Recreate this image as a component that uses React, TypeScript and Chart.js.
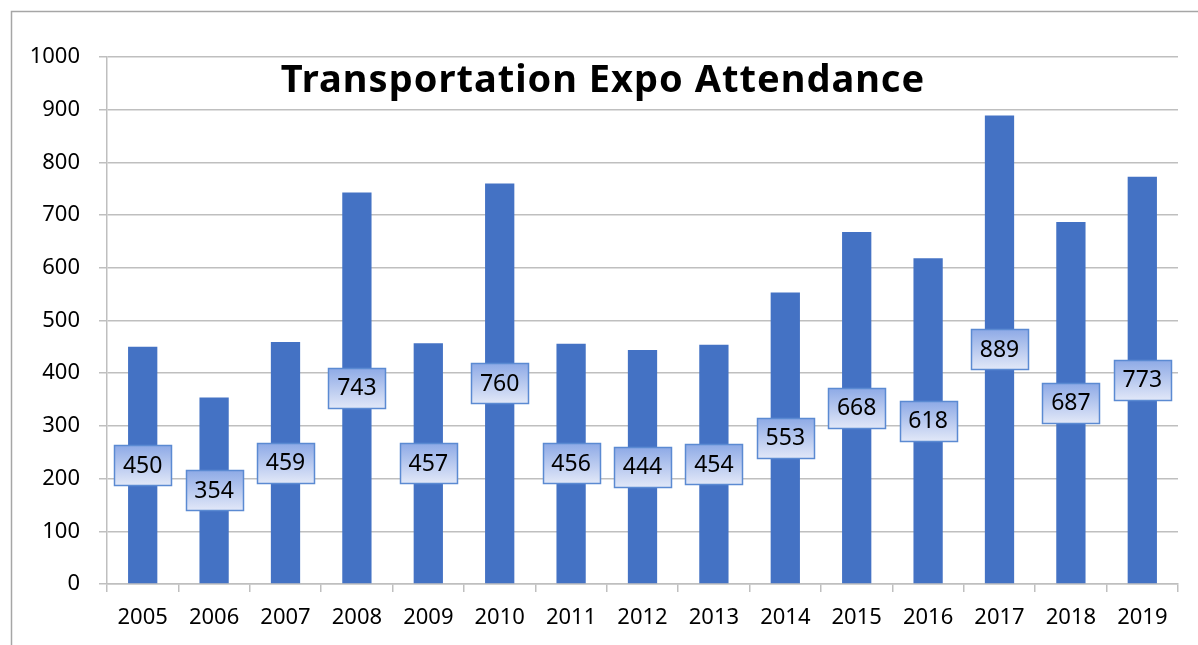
import React, { useEffect, useRef } from "react";
import { Chart, registerables } from "chart.js";

Chart.register(...registerables);

const years = ["2005","2006","2007","2008","2009","2010","2011","2012","2013","2014","2015","2016","2017","2018","2019"];
const attendance = [450, 354, 459, 743, 457, 760, 456, 444, 454, 553, 668, 618, 889, 687, 773];
const titleText = "Transportation Expo Attendance";
const FONT = "'Noto Sans', 'DejaVu Sans', sans-serif";

const frame = {
  id: "frame",
  beforeDraw(chart: any) {
    const ctx = chart.ctx;
    ctx.save();
    ctx.fillStyle = "#ffffff";
    ctx.fillRect(0, 0, chart.width, chart.height);
    ctx.strokeStyle = "#a6a6a6";
    ctx.lineWidth = 1.5;
    ctx.beginPath();
    ctx.moveTo(11.5, 700);
    ctx.lineTo(11.5, 11.5);
    ctx.lineTo(1250, 11.5);
    ctx.stroke();
    ctx.restore();
  },
};

const titleAndLabels = {
  id: "titleAndLabels",
  afterDatasetsDraw(chart: any) {
    const ctx = chart.ctx;
    const meta = chart.getDatasetMeta(0);
    ctx.save();
    meta.data.forEach((bar: any, i: number) => {
      const cx = bar.x;
      const cy = (bar.y + bar.base) / 2;
      const w = 57, h = 40;
      const x0 = Math.round(cx - w / 2) + 0.5;
      const y0 = Math.round(cy - h / 2) + 0.5;
      const g = ctx.createLinearGradient(0, y0, 0, y0 + h);
      g.addColorStop(0, "#8eaae6");
      g.addColorStop(1, "#e2e8f8");
      ctx.fillStyle = g;
      ctx.fillRect(x0, y0, w, h);
      ctx.strokeStyle = "#5b8ad2";
      ctx.lineWidth = 1.5;
      ctx.strokeRect(x0, y0, w, h);
      ctx.fillStyle = "#000000";
      ctx.font = `23px ${FONT}`;
      ctx.textAlign = "center";
      ctx.textBaseline = "middle";
      ctx.fillText(String(attendance[i]), cx, cy + 1);
    });
    ctx.restore();
  },
  afterDraw(chart: any) {
    const ctx = chart.ctx;
    ctx.save();
    ctx.fillStyle = "#000000";
    ctx.font = `bold 38px ${FONT}`;
    try { (ctx as any).letterSpacing = "1px"; } catch (e) {}
    ctx.textAlign = "center";
    ctx.textBaseline = "alphabetic";
    ctx.fillText(titleText, 603, 92);
    ctx.restore();
  },
};

export default function App() {
  const ref = useRef<HTMLCanvasElement>(null);
  useEffect(() => {
    if (!ref.current) return;
    const chart = new Chart(ref.current, {
      type: "bar",
      data: {
        labels: years,
        datasets: [
          {
            data: attendance,
            backgroundColor: "#4472c4",
            borderWidth: 0,
            categoryPercentage: 1,
            barPercentage: 0.41,
          },
        ],
      },
      options: {
        responsive: false,
        animation: false,
        layout: { padding: { left: 0, top: 57, right: 20, bottom: 0 } },
        plugins: { legend: { display: false }, title: { display: false }, tooltip: { enabled: false } },
        scales: {
          x: {
            offset: true,
            grid: { display: true, drawOnChartArea: false, drawTicks: true, tickLength: 8, color: "#bfbfbf", lineWidth: 1.5, offset: true },
            border: { display: true, color: "#bfbfbf", width: 1.5 },
            ticks: { color: "#000000", font: { family: FONT, size: 22 }, padding: 13, maxRotation: 0, autoSkip: false },
            afterFit: (s: any) => { s.height = 61; },
          },
          y: {
            min: 0,
            max: 1000,
            ticks: {
              stepSize: 100,
              color: "#000000",
              font: { family: FONT, size: 22 },
              padding: 19,
              callback: (v: any) => String(v),
            },
            grid: { color: "#bfbfbf", lineWidth: 1.5, tickLength: 8, drawTicks: true },
            border: { display: true, color: "#bfbfbf", width: 1.5 },
            afterFit: (s: any) => { s.width = 107; },
          },
        },
      },
      plugins: [frame, titleAndLabels],
    });
    return () => chart.destroy();
  }, []);
  return (
    <div style={{ position: "fixed", left: 0, top: 0, width: 1198, height: 645, background: "#fff" }}>
      <canvas ref={ref} width={1198} height={645} style={{ display: "block" }} />
    </div>
  );
}
